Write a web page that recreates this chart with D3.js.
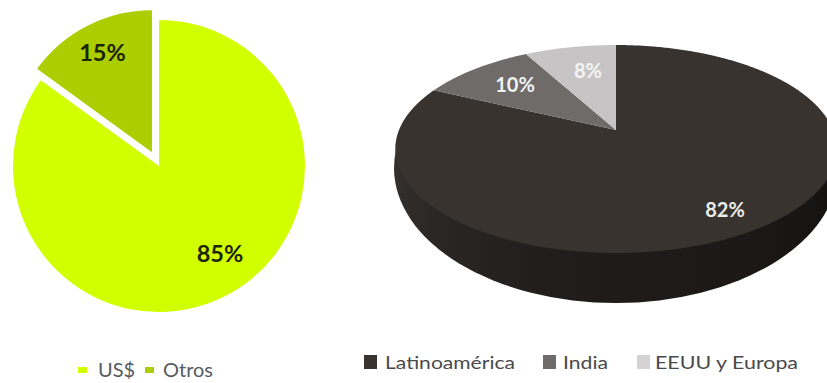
<!DOCTYPE html>
<html>
<head>
<meta charset="utf-8">
<script src="https://cdn.jsdelivr.net/npm/d3@7"></script>
<style>
html,body{margin:0;padding:0;background:#fff;overflow:hidden}
svg{display:block}
text{font-family:Lato,"Open Sans",sans-serif}
</style>
</head>
<body>
<svg id="chart" width="827" height="383"></svg>
<script>
// Currency split (flat pie)
const currencyLabels = ["US$", "Otros"];
const currencyValues = [85, 15];
const currencyColors = ["#d2ff00", "#acce00"];

// Regional split (tilted 3D pie)
const regionLabels = ["Latinoamérica", "India", "EEUU y Europa"];
const regionValues = [82, 10, 8];
const regionColors = ["#38332f", "#6e6b69", "#c6c4c4"];
const regionLegendColors = ["#38332f", "#6e6b69", "#d4d2d2"];

const svg = d3.select("#chart");
const pieLayout = d3.pie().sort(null).value(d => d);

// ---- Flat pie with the smaller slice pulled out ----
const flatCenter = [159, 166], flatRadii = [146, 142], explode = 15.5;
const flat = svg.append("g").attr("transform", `translate(${flatCenter})`);
pieLayout(currencyValues).forEach((s, i) => {
  const mid = (s.startAngle + s.endAngle) / 2;
  const off = i === 1 ? explode : 0;
  const arc = d3.arc().innerRadius(0).outerRadius(flatRadii[i]);
  flat.append("path")
    .attr("d", arc(s))
    .attr("fill", currencyColors[i])
    .attr("transform", `translate(${off * Math.sin(mid)},${-off * Math.cos(mid)})`);
});
const flatLabelPos = [[61, 96], [-56.5, -105]];
currencyValues.forEach((v, i) => {
  flat.append("text")
    .attr("x", flatLabelPos[i][0]).attr("y", flatLabelPos[i][1])
    .attr("text-anchor", "middle").attr("font-size", 23.5).attr("font-weight", 700)
    .attr("fill", "#1c2400").text(v + "%");
});

// ---- Perspective pie: the unit circle goes through a homography ----
const tip = [616, 130];
const persp = { a: 217, b: 100.5, k: 0.1826 };
function project(angle) {
  const u = Math.sin(angle), v = Math.cos(angle);
  const w = 1 + persp.k * v;
  return [tip[0] + persp.a * u / w, tip[1] - persp.b * v / w];
}
function rimPoints(a0, a1) {
  const n = Math.max(2, Math.ceil(Math.abs(a1 - a0) / 0.01));
  return d3.range(n + 1).map(i => project(a0 + (a1 - a0) * i / n));
}
const line = d3.line();
const defs = svg.append("defs");
const wallGrad = defs.append("linearGradient").attr("id", "wall")
  .attr("x1", 0).attr("x2", 1).attr("y1", 0).attr("y2", 0);
wallGrad.selectAll("stop")
  .data([[0, "#34302e"], [0.1, "#2a2624"], [0.35, "#211d1c"], [0.8, "#1c1817"], [1, "#141212"]])
  .join("stop")
  .attr("offset", d => d[0]).attr("stop-color", d => d[1]);
// Only the lower part of the base is visible under the top face
defs.append("clipPath").attr("id", "lower")
  .append("rect").attr("x", 380).attr("y", 149).attr("width", 447).attr("height", 180);

// Base of the disc, showing below the top face
svg.append("ellipse")
  .attr("cx", 616).attr("cy", 168).attr("rx", 222).attr("ry", 135)
  .attr("fill", "url(#wall)")
  .attr("clip-path", "url(#lower)");

// Top face slices
pieLayout(regionValues).forEach((s, i) => {
  svg.append("path")
    .attr("d", line([tip].concat(rimPoints(s.startAngle, s.endAngle))) + "Z")
    .attr("fill", regionColors[i]);
});

const regionLabelPos = [[725, 217], [515, 92], [588, 78]];
const regionLabelFill = ["#ecebe8", "#f2f2f2", "#f4f4f4"];
regionValues.forEach((v, i) => {
  svg.append("text")
    .attr("x", regionLabelPos[i][0]).attr("y", regionLabelPos[i][1])
    .attr("text-anchor", "middle").attr("font-size", 20).attr("font-weight", 700)
    .attr("fill", regionLabelFill[i]).text(v + "%");
});

// ---- Legends ----
const currencyLegend = [[78, 98], [145, 163]];
currencyLabels.forEach((t, i) => {
  svg.append("rect").attr("x", currencyLegend[i][0]).attr("y", 367)
    .attr("width", 9).attr("height", 6).attr("fill", currencyColors[i]);
  svg.append("text").attr("x", currencyLegend[i][1]).attr("y", 377)
    .attr("font-size", 20).attr("fill", "#565a60").text(t);
});
const regionLegend = [[364, 385, 130], [543, 563, 45], [637, 655, 143]];
regionLabels.forEach((t, i) => {
  svg.append("rect").attr("x", regionLegend[i][0]).attr("y", 355)
    .attr("width", 13).attr("height", 14).attr("fill", regionLegendColors[i]);
  svg.append("text").attr("x", regionLegend[i][1]).attr("y", 369)
    .attr("font-size", 18).attr("textLength", regionLegend[i][2])
    .attr("lengthAdjust", "spacingAndGlyphs")
    .attr("fill", "#4a4a4a").text(t);
});
</script>
</body>
</html>
